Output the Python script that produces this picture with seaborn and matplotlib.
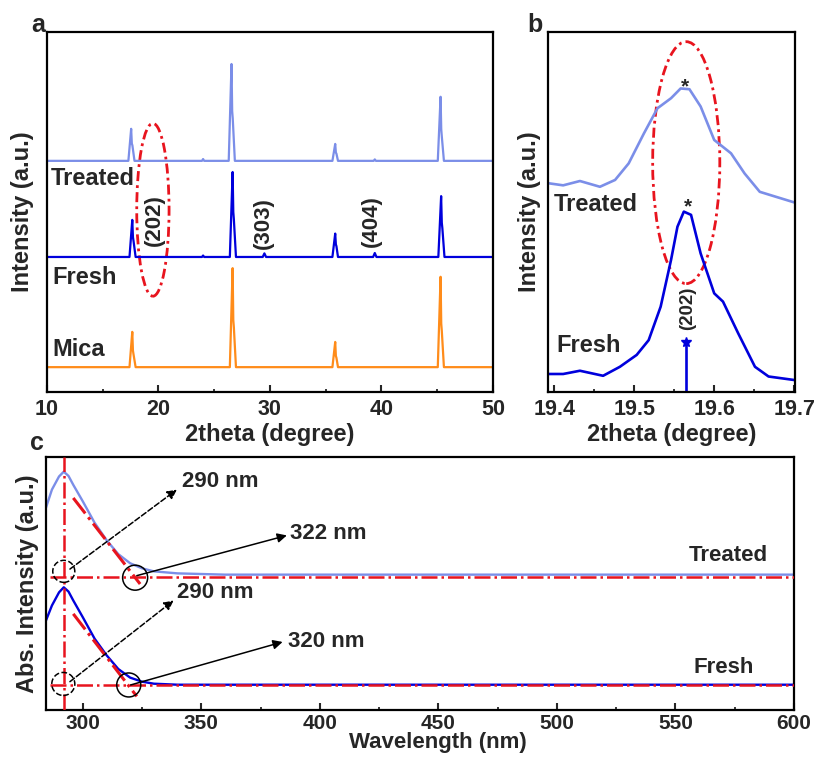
import matplotlib
matplotlib.use('Agg')
import matplotlib.pyplot as plt
from matplotlib.patches import Ellipse
from matplotlib.ticker import MultipleLocator, FixedLocator, FormatStrFormatter
import seaborn as sns

# ---------------- Panel a : XRD patterns ----------------
mica_x = [10, 17.40, 17.65, 17.71, 17.76, 17.95, 26.40, 26.65, 26.71, 26.76, 26.95,
          35.60, 35.85, 35.91, 35.96, 36.10, 45.05, 45.30, 45.36, 45.41, 45.60, 50]
mica_y = [0.069, 0.069, 0.167, 0.115, 0.105, 0.069, 0.069, 0.344, 0.20, 0.18, 0.069,
          0.069, 0.139, 0.10, 0.095, 0.069, 0.069, 0.320, 0.19, 0.17, 0.069, 0.069]

fresh_x = [10, 17.40, 17.65, 17.71, 17.76, 17.95, 23.90, 24.00, 24.10, 26.40, 26.65, 26.71,
           26.76, 26.95, 29.35, 29.50, 29.65, 35.60, 35.85, 35.91, 35.96, 36.10,
           39.25, 39.40, 39.55, 45.10, 45.35, 45.41, 45.46, 45.65, 50]
fresh_y = [0.375, 0.375, 0.478, 0.43, 0.42, 0.375, 0.375, 0.379, 0.375, 0.375, 0.611, 0.50,
           0.48, 0.375, 0.375, 0.385, 0.375, 0.375, 0.440, 0.41, 0.405, 0.375,
           0.375, 0.386, 0.375, 0.375, 0.544, 0.47, 0.455, 0.375, 0.375]

treated_x = [10, 17.30, 17.55, 17.61, 17.66, 17.85, 23.90, 24.00, 24.10, 26.30, 26.55, 26.61,
             26.66, 26.85, 35.60, 35.85, 35.91, 35.96, 36.10, 39.30, 39.40, 39.50,
             45.05, 45.30, 45.36, 45.41, 45.60, 50]
treated_y = [0.642, 0.642, 0.731, 0.69, 0.685, 0.642, 0.642, 0.647, 0.642, 0.642, 0.911, 0.78,
             0.76, 0.642, 0.642, 0.689, 0.665, 0.662, 0.642, 0.642, 0.646, 0.642,
             0.642, 0.820, 0.73, 0.71, 0.642, 0.642]

a_labels = ['Treated', 'Fresh', 'Mica']
a_label_y = [0.592, 0.317, 0.117]
a_label_x = [10.35, 10.5, 10.5]
hkl_labels = ['(202)', '(303)', '(404)']
hkl_x = [19.6, 29.43, 39.1]
hkl_y = [0.478, 0.47, 0.476]
a_ticks = [10, 20, 30, 40, 50]

# ---------------- Panel b : zoom on (202) ----------------
b_treated_x = [19.392, 19.411, 19.432, 19.457, 19.476, 19.493, 19.512, 19.529, 19.546,
               19.558, 19.569, 19.583, 19.600, 19.621, 19.638, 19.657, 19.676, 19.701]
b_treated_y = [0.580, 0.574, 0.586, 0.570, 0.589, 0.635, 0.718, 0.788, 0.816,
               0.843, 0.841, 0.793, 0.700, 0.663, 0.607, 0.556, 0.543, 0.526]
b_fresh_x = [19.392, 19.411, 19.432, 19.461, 19.482, 19.503, 19.518, 19.533, 19.546,
             19.554, 19.562, 19.571, 19.583, 19.600, 19.611, 19.630, 19.651, 19.668, 19.701]
b_fresh_y = [0.050, 0.050, 0.059, 0.045, 0.070, 0.103, 0.144, 0.237, 0.367,
             0.459, 0.501, 0.492, 0.385, 0.274, 0.251, 0.163, 0.070, 0.043, 0.033]
b_ref_x = 19.565
b_ref_h = 0.14
b_ticks = [19.4, 19.5, 19.6, 19.7]

# ---------------- Panel c : UV-vis absorption ----------------
c_treated_x = [284.5, 287, 290, 292, 294, 296, 300, 305, 310, 315, 320, 325, 330, 340, 360, 600]
c_treated_y = [0.800, 0.871, 0.923, 0.942, 0.925, 0.890, 0.825, 0.740, 0.672, 0.616,
               0.580, 0.560, 0.548, 0.540, 0.535, 0.535]
c_fresh_x = [284.5, 287, 290, 292, 294, 296, 300, 305, 310, 315, 320, 325, 330, 340, 350, 600]
c_fresh_y = [0.354, 0.413, 0.465, 0.485, 0.468, 0.433, 0.367, 0.282, 0.217, 0.162,
             0.128, 0.112, 0.104, 0.100, 0.100, 0.100]
c_peak = 292.1
c_base_treated = 0.527
c_base_fresh = 0.099
c_tan_treated_x = [296.0, 324.2]
c_tan_treated_y = [0.838, 0.498]
c_tan_fresh_x = [296.0, 322.8]
c_tan_fresh_y = [0.380, 0.054]
c_edge_labels = ['322 nm', '320 nm']
c_peak_label = '290 nm'
c_ticks = [300, 350, 400, 450, 500, 550, 600]

LIGHT = '#7b8ee8'
BLUE = '#0000dc'
ORANGE = '#ff8c1a'
RED = '#e8141e'
DASHDOT = (0, (3.6, 1.5, 1.0, 1.5))

sns.set_style('white')
plt.rcParams.update({
    'font.family': ['Liberation Sans', 'DejaVu Sans'],
    'font.weight': 'bold',
    'axes.labelweight': 'bold',
    'axes.linewidth': 1.6,
    'axes.edgecolor': 'black',
})

fig = plt.figure(figsize=(8.17, 7.61), dpi=100)
axA = fig.add_axes([0.0575, 0.4849, 0.5459, 0.4731])
axB = fig.add_axes([0.6707, 0.4849, 0.3023, 0.4731])
axC = fig.add_axes([0.0563, 0.0670, 0.9155, 0.3325])


def style_axis(ax, ticks, minor, fmt, pad=5, size=15.5):
    ax.set_yticks([])
    ax.xaxis.set_major_locator(FixedLocator(ticks))
    ax.xaxis.set_major_formatter(FormatStrFormatter(fmt))
    ax.xaxis.set_minor_locator(MultipleLocator(minor))
    ax.tick_params(axis='x', which='major', direction='in', length=5, width=1.5,
                   labelsize=size, pad=pad, bottom=True, top=False)
    ax.tick_params(axis='x', which='minor', direction='in', length=2.5, width=1.3,
                   bottom=True, top=False)
    for lab in ax.get_xticklabels():
        lab.set_fontweight('bold')
    for s in ax.spines.values():
        s.set_linewidth(1.6)
        s.set_color('black')


# ----- Panel a -----
for xs, ys, col in [(mica_x, mica_y, ORANGE), (fresh_x, fresh_y, BLUE),
                    (treated_x, treated_y, LIGHT)]:
    sns.lineplot(x=xs, y=ys, ax=axA, color=col, lw=1.6, estimator=None, sort=False)
axA.set_xlim(10, 50)
axA.set_ylim(0, 1)
style_axis(axA, a_ticks, 5, '%d')
axA.set_xlabel('2theta (degree)', fontsize=17, labelpad=2)
axA.set_ylabel('Intensity (a.u.)', fontsize=17, labelpad=9)
for t, x, y in zip(a_labels, a_label_x, a_label_y):
    axA.text(x, y, t, fontsize=17, ha='left', va='center')
for t, x, y in zip(hkl_labels, hkl_x, hkl_y):
    axA.text(x, y, t, fontsize=16, rotation=90, ha='center', va='center')
axA.add_patch(Ellipse((19.5, 0.506), 2.9, 0.48, fill=False, ec=RED, lw=2, ls=DASHDOT))
axA.text(-0.005, 1.0, 'a', transform=axA.transAxes, fontsize=18, ha='right', va='baseline')

# ----- Panel b -----
sns.lineplot(x=b_treated_x, y=b_treated_y, ax=axB, color=LIGHT, lw=1.9, estimator=None, sort=False)
sns.lineplot(x=b_fresh_x, y=b_fresh_y, ax=axB, color=BLUE, lw=1.9, estimator=None, sort=False)
axB.plot([b_ref_x, b_ref_x], [0, b_ref_h], color=BLUE, lw=1.9)
axB.plot([b_ref_x], [b_ref_h], marker='*', color=BLUE, markersize=7)
axB.set_xlim(19.392, 19.701)
axB.set_ylim(0, 1)
style_axis(axB, b_ticks, 0.05, '%.1f')
axB.set_xlabel('2theta (degree)', fontsize=17, labelpad=2)
axB.set_ylabel('Intensity (a.u.)', fontsize=17, labelpad=5)
axB.text(19.399, 0.52, 'Treated', fontsize=17, ha='left', va='center')
axB.text(19.403, 0.13, 'Fresh', fontsize=17, ha='left', va='center')
axB.text(19.563, 0.833, '*', fontsize=15, ha='center', va='baseline')
axB.text(19.567, 0.500, '*', fontsize=15, ha='center', va='baseline')
axB.text(19.567, 0.233, '(202)', fontsize=13.5, rotation=90, ha='center', va='center')
axB.add_patch(Ellipse((19.565, 0.637), 0.084, 0.672, fill=False, ec=RED, lw=2, ls=DASHDOT))
axB.text(-0.02, 1.0, 'b', transform=axB.transAxes, fontsize=18, ha='right', va='baseline')

# ----- Panel c -----
sns.lineplot(x=c_treated_x, y=c_treated_y, ax=axC, color=LIGHT, lw=1.7, estimator=None, sort=False)
sns.lineplot(x=c_fresh_x, y=c_fresh_y, ax=axC, color=BLUE, lw=1.7, estimator=None, sort=False)
axC.set_xlim(284.5, 600)
axC.set_ylim(0, 1)
style_axis(axC, c_ticks, 25, '%d', pad=3, size=15)
axC.set_xlabel('Wavelength (nm)', fontsize=16, labelpad=-1, x=0.524)
axC.set_ylabel('Abs. Intensity (a.u.)', fontsize=17, labelpad=5)

axC.axvline(c_peak, color=RED, lw=1.8, ls='-.', zorder=5)
axC.plot([286.2, 600], [c_base_treated, c_base_treated], color=RED, lw=1.8, ls='-.', zorder=5)
axC.plot([286.2, 600], [c_base_fresh, c_base_fresh], color=RED, lw=1.8, ls='-.', zorder=5)
axC.plot(c_tan_treated_x, c_tan_treated_y, color=RED, lw=2.2, ls='-.', zorder=5)
axC.plot(c_tan_fresh_x, c_tan_fresh_y, color=RED, lw=2.2, ls='-.', zorder=5)

px_x = 2.368  # pixels per nm
px_y = 253.0  # pixels per unit y
for (cx, cy, d, ls) in [(292.0, 0.548, 22, '--'), (322.1, 0.523, 25, '-'),
                        (291.8, 0.103, 23, '--'), (319.4, 0.099, 24, '-')]:
    axC.add_patch(Ellipse((cx, cy), d / px_x, d / px_y, fill=False, ec='black',
                          lw=1.1, ls=ls, zorder=6))

arrow_specs = [((294.6, 0.557), (339.7, 0.871), '--'),
               ((322.8, 0.531), (386.1, 0.690), '-'),
               ((294.6, 0.112), (338.3, 0.433), '--'),
               ((320.2, 0.099), (384.3, 0.269), '-')]
for (start, end, ls) in arrow_specs:
    axC.annotate('', xy=end, xytext=start,
                 arrowprops=dict(arrowstyle='-|>', color='black', lw=1.1, ls=ls,
                                 mutation_scale=14, shrinkA=0, shrinkB=0), zorder=7)

axC.text(341.9, 0.903, c_peak_label, fontsize=16, ha='left', va='center')
axC.text(387.5, 0.698, c_edge_labels[0], fontsize=16, ha='left', va='center')
axC.text(339.7, 0.465, c_peak_label, fontsize=16, ha='left', va='center')
axC.text(386.5, 0.272, c_edge_labels[1], fontsize=16, ha='left', va='center')
axC.text(588.8, 0.609, 'Treated', fontsize=16, ha='right', va='center')
axC.text(583.2, 0.167, 'Fresh', fontsize=16, ha='right', va='center')
axC.text(-0.003, 1.027, 'c', transform=axC.transAxes, fontsize=18, ha='right', va='baseline')

fig.savefig('out.png', dpi=100)
